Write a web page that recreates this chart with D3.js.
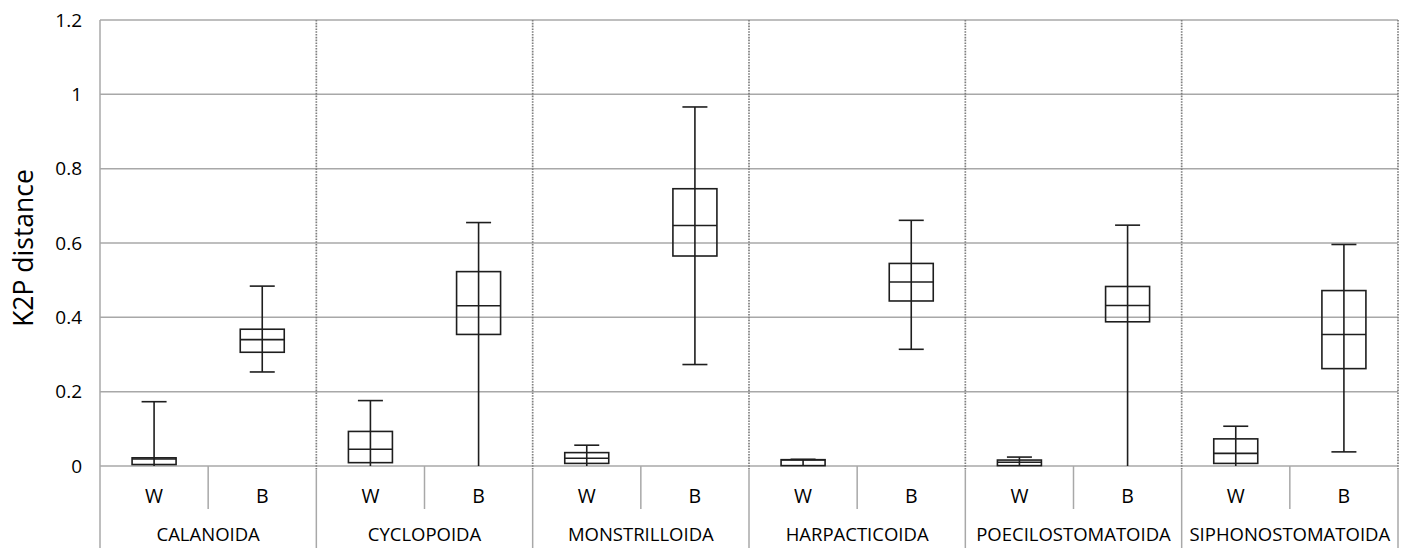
<!DOCTYPE html>
<html>
<head>
<meta charset="utf-8">
<script src="https://cdn.jsdelivr.net/npm/d3@7"></script>
<style>
  body { margin: 0; background: #fff; }
  text { font-family: "Open Sans", "Noto Sans", sans-serif; fill: #000; }
</style>
</head>
<body>
<div id="chart"></div>
<script>
// orders and the within (W) / between (B) groups
var orders = ["CALANOIDA", "CYCLOPOIDA", "MONSTRILLOIDA", "HARPACTICOIDA", "POECILOSTOMATOIDA", "SIPHONOSTOMATOIDA"];
var groups = ["W", "B"];

// box statistics, one value per order, W then B
var minW = [0, 0, 0, 0, 0, 0];
var q1W  = [0.004, 0.009, 0.007, 0.001, 0.001, 0.007];
var medW = [0.019, 0.045, 0.021, 0.016, 0.010, 0.034];
var q3W  = [0.022, 0.093, 0.036, 0.017, 0.016, 0.073];
var maxW = [0.173, 0.176, 0.056, 0.018, 0.024, 0.107];

var minB = [0.253, 0, 0.273, 0.314, 0, 0.038];
var q1B  = [0.306, 0.354, 0.565, 0.444, 0.388, 0.262];
var medB = [0.340, 0.431, 0.647, 0.495, 0.432, 0.354];
var q3B  = [0.368, 0.523, 0.746, 0.545, 0.483, 0.472];
var maxB = [0.484, 0.655, 0.966, 0.661, 0.648, 0.596];

var yTicks = [0, 0.2, 0.4, 0.6, 0.8, 1, 1.2];

// set the dimensions and margins of the graph
var W = 1409, H = 548;
var margin = {top: 20, right: 11, bottom: 82, left: 100},
    width = W - margin.left - margin.right,
    height = H - margin.top - margin.bottom;

var svg = d3.select("#chart")
    .append("svg")
    .attr("width", W)
    .attr("height", H)
    .append("g")
    .attr("transform", "translate(" + margin.left + "," + margin.top + ")");

// build rows from the arrays
var rows = [];
orders.forEach(function(o, i) {
    rows.push({order: o, group: "W", min: minW[i], q1: q1W[i], med: medW[i], q3: q3W[i], max: maxW[i]});
    rows.push({order: o, group: "B", min: minB[i], q1: q1B[i], med: medB[i], q3: q3B[i], max: maxB[i]});
});

var x = d3.scaleBand().domain(orders).range([0, width]).padding(0);
var xs = d3.scaleBand().domain(groups).range([0, x.bandwidth()]).padding(0);
var y = d3.scaleLinear().domain([0, 1.2]).range([height, 0]);

var gridColor = "#a8a8a8";

// horizontal gridlines
svg.append("g")
    .selectAll("line")
    .data(yTicks)
    .enter().append("line")
    .attr("x1", 0).attr("x2", width)
    .attr("y1", function(d) { return y(d); })
    .attr("y2", function(d) { return y(d); })
    .attr("stroke", gridColor)
    .attr("stroke-width", 1.5);

// y axis labels
var yAxis = svg.append("g")
    .call(d3.axisLeft(y).tickValues(yTicks).tickSize(0).tickPadding(18)
        .tickFormat(function(d) { return d3.format("")(d); }));
yAxis.select(".domain").remove();
yAxis.selectAll("text")
    .style("font-size", "19px")
    .style("font-family", "'Open Sans', sans-serif")
    .attr("fill", "#000");

// dotted separators inside the plot
var bounds = orders.slice(1).map(function(o) { return x(o); }).concat([width]);
svg.append("g")
    .selectAll("line")
    .data(bounds)
    .enter().append("line")
    .attr("x1", function(d) { return d; }).attr("x2", function(d) { return d; })
    .attr("y1", 0).attr("y2", height + 4)
    .attr("stroke", "#7f7f7f")
    .attr("stroke-width", 1.7)
    .attr("stroke-dasharray", "1.6,1.2");

// solid separators in the category axis area
svg.append("g")
    .selectAll("line")
    .data(bounds)
    .enter().append("line")
    .attr("x1", function(d) { return d; }).attr("x2", function(d) { return d; })
    .attr("y1", height + 4).attr("y2", H - margin.top)
    .attr("stroke", gridColor)
    .attr("stroke-width", 1.5);

// left axis line
svg.append("line")
    .attr("x1", 0).attr("x2", 0)
    .attr("y1", 0).attr("y2", H - margin.top)
    .attr("stroke", gridColor)
    .attr("stroke-width", 1.5);

// W / B dividers
svg.append("g")
    .selectAll("line")
    .data(orders)
    .enter().append("line")
    .attr("x1", function(d) { return x(d) + xs("B"); })
    .attr("x2", function(d) { return x(d) + xs("B"); })
    .attr("y1", height).attr("y2", height + 43)
    .attr("stroke", gridColor)
    .attr("stroke-width", 1.5);

// W / B labels
svg.append("g")
    .selectAll("text")
    .data(rows)
    .enter().append("text")
    .attr("x", function(d) { return x(d.order) + xs(d.group) + xs.bandwidth() / 2; })
    .attr("y", height + 37)
    .attr("text-anchor", "middle")
    .style("font-size", "19.5px")
    .text(function(d) { return d.group; });

// order labels
svg.append("g")
    .selectAll("text")
    .data(orders)
    .enter().append("text")
    .attr("x", function(d) { return x(d) + x.bandwidth() / 2; })
    .attr("y", height + 75)
    .attr("text-anchor", "middle")
    .style("font-size", "18.5px")
    .text(function(d) { return d; });

// y axis title
svg.append("text")
    .attr("transform", "translate(" + (33 - margin.left) + "," + (y(0.6) + 5) + ") rotate(-90)")
    .attr("text-anchor", "middle")
    .style("font-size", "26.5px")
    .text("K2P distance");

// boxes
var boxW = 44, capW = 25;
var box = svg.append("g")
    .selectAll("g")
    .data(rows)
    .enter().append("g")
    .attr("transform", function(d) {
        return "translate(" + (x(d.order) + xs(d.group) + xs.bandwidth() / 2) + ",0)";
    });

var ink = "#1e1e1e", sw = 1.6;

box.append("line")
    .attr("x1", 0).attr("x2", 0)
    .attr("y1", function(d) { return y(d.min); })
    .attr("y2", function(d) { return y(d.max); })
    .attr("stroke", ink).attr("stroke-width", sw);

box.append("line")
    .attr("x1", -capW / 2).attr("x2", capW / 2)
    .attr("y1", function(d) { return y(d.max); })
    .attr("y2", function(d) { return y(d.max); })
    .attr("stroke", ink).attr("stroke-width", sw);

box.filter(function(d) { return d.min > 0; })
    .append("line")
    .attr("x1", -capW / 2).attr("x2", capW / 2)
    .attr("y1", function(d) { return y(d.min); })
    .attr("y2", function(d) { return y(d.min); })
    .attr("stroke", ink).attr("stroke-width", sw);

box.append("rect")
    .attr("x", -boxW / 2)
    .attr("width", boxW)
    .attr("y", function(d) { return y(d.q3); })
    .attr("height", function(d) { return y(d.q1) - y(d.q3); })
    .attr("fill", "none")
    .attr("stroke", ink).attr("stroke-width", sw);

box.append("line")
    .attr("x1", -boxW / 2).attr("x2", boxW / 2)
    .attr("y1", function(d) { return y(d.med); })
    .attr("y2", function(d) { return y(d.med); })
    .attr("stroke", ink).attr("stroke-width", sw);
</script>
</body>
</html>
